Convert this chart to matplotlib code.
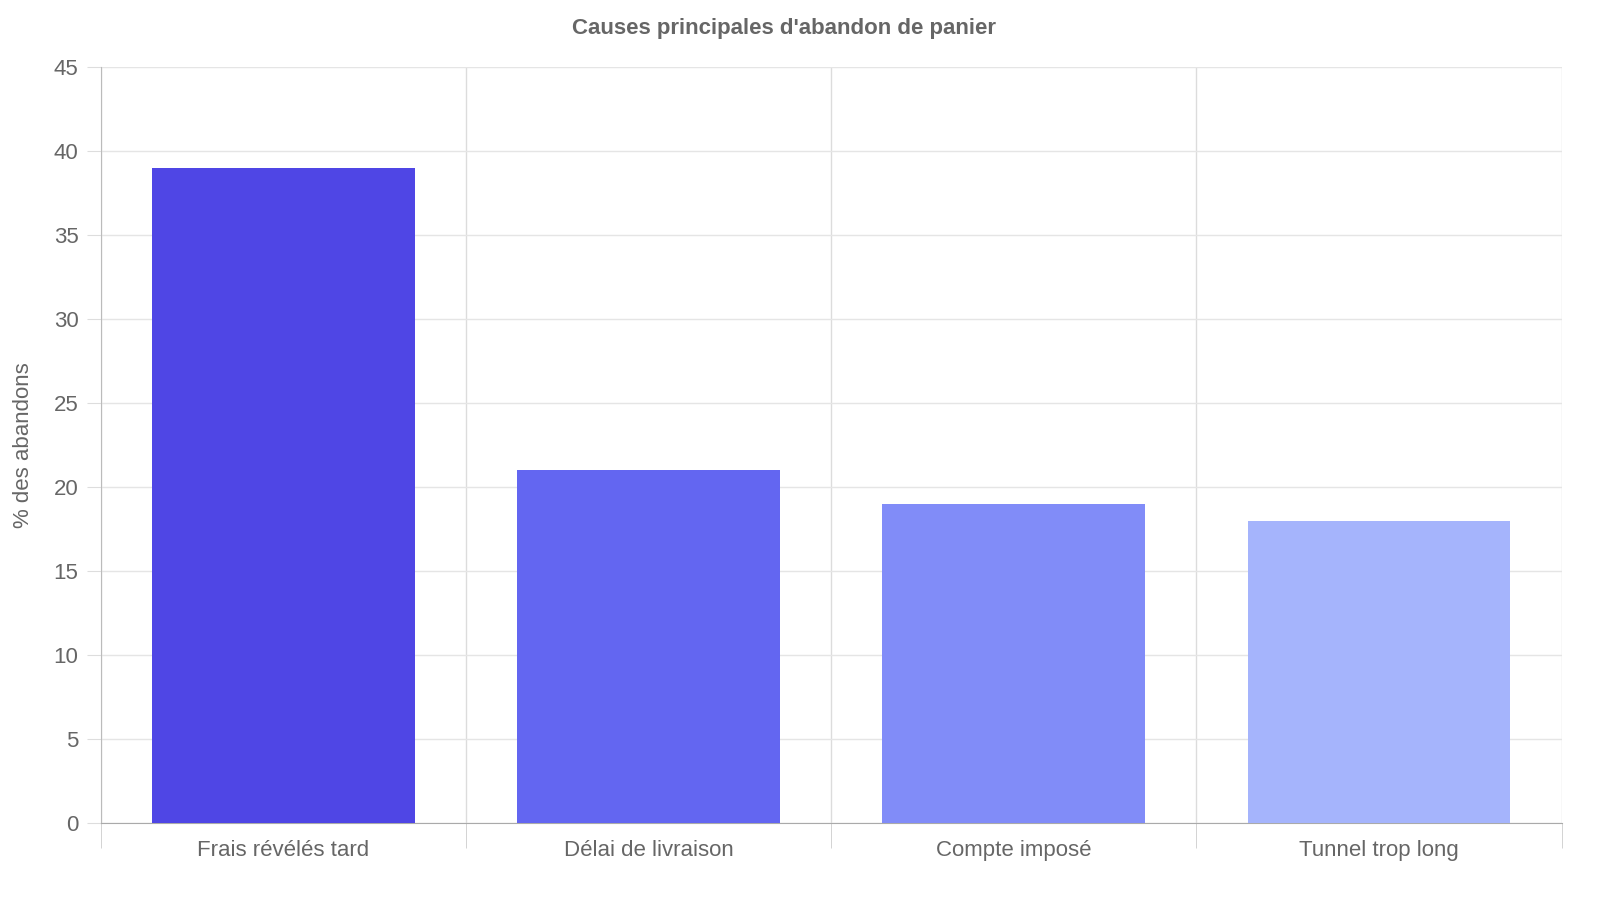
import matplotlib
matplotlib.use("Agg")
import matplotlib.pyplot as plt
import numpy as np

plt.rcParams['font.family'] = ['Liberation Sans', 'DejaVu Sans']

categories = ["Frais révélés tard", "Délai de livraison", "Compte imposé", "Tunnel trop long"]
values = [39, 21, 19, 18]
colors = ["#4F46E5", "#6366F1", "#818CF8", "#A5B4FC"]
text_col = "#666666"

fig = plt.figure(figsize=(16, 9), dpi=100)
ax = fig.add_axes([0.063, 0.0856, 0.913, 0.84])

x = np.arange(len(categories))
ax.bar(x, values, width=0.72, color=colors, zorder=3)

ax.set_xlim(-0.5, len(categories) - 0.5)
ax.set_ylim(0, 45)
ax.set_yticks(range(0, 46, 5))
ax.set_xticks(x)
ax.set_xticklabels(categories)
ax.set_xticks(np.arange(-0.5, len(categories), 1), minor=True)

ax.grid(True, axis="y", color="#e5e5e5", linewidth=1, zorder=0)
ax.grid(True, axis="x", which="minor", color="#dcdcdc", linewidth=1, zorder=0)
ax.tick_params(axis="x", which="major", length=0, pad=12, labelsize=16, labelcolor=text_col)
ax.tick_params(axis="x", which="minor", length=18, color="#cccccc")
ax.tick_params(axis="y", length=10, color="#dddddd", labelsize=16, labelcolor=text_col, pad=6)

for s in ["top", "right"]:
    ax.spines[s].set_visible(False)
ax.spines["left"].set_color("#bbbbbb")
ax.spines["bottom"].set_color("#aaaaaa")

ax.set_ylabel("% des abandons", fontsize=16, color=text_col, labelpad=14)
fig.suptitle("Causes principales d'abandon de panier", fontsize=16, fontweight="bold",
             color=text_col, x=0.49, y=0.98)

fig.savefig("out.png", dpi=100)
